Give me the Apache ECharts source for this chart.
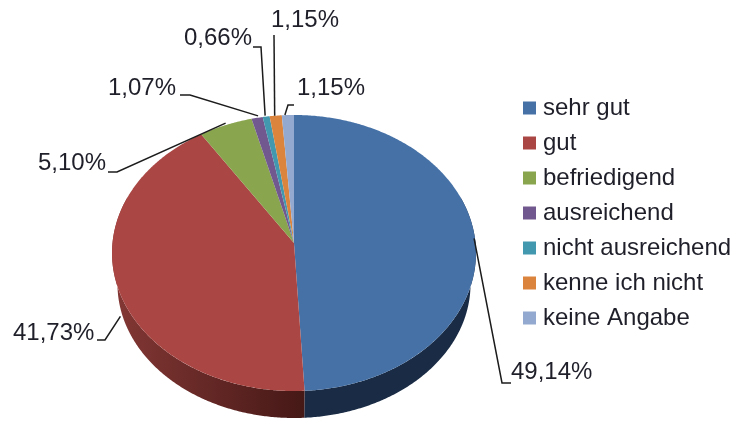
<!DOCTYPE html>
<html>
<head>
<meta charset="utf-8">
<style>
  html, body { margin: 0; padding: 0; background: #fff; }
  #chart { width: 733px; height: 421px; }
</style>
<script src="https://cdn.jsdelivr.net/npm/echarts@6/dist/echarts.min.js"></script>
</head>
<body>
<div id="chart"></div>
<script>
const categories = ["sehr gut", "gut", "befriedigend", "ausreichend", "nicht ausreichend", "kenne ich nicht", "keine Angabe"];
const shares = [49.14, 41.73, 5.10, 1.07, 0.66, 1.15, 1.15];
const shareLabels = ["49,14%", "41,73%", "5,10%", "1,07%", "0,66%", "1,15%", "1,15%"];

const sliceColors = ["#4571a7", "#aa4744", "#89a54e", "#71588f", "#4298af", "#db843d", "#93a9cf"];

// geometry of the tilted pie, tilt is a small perspective so the hub sits above the middle
const cx = 294, cy = 243, rx = 181.5, ry = 137.3, tilt = 0.0725;
const wallY = 274.4, wallScale = 0.97;
const total = shares.reduce((a, b) => a + b, 0);

// text position, elbow of the leader and nudge of its end on the rim, per slice
const leaders = [
  { text: [511, 372], knee: [[511, 383], [502, 383]], nudge: [-1, -1] },
  { text: [13, 333], knee: [[97, 340], [105, 340]], nudge: [3, 30] },
  { text: [38, 163], knee: [[108, 172], [117, 172]], nudge: [0, -2] },
  { text: [108, 88], knee: [[180, 95], [190, 95]], nudge: [1, -2] },
  { text: [184, 38], knee: [[253, 47], [261, 47]], nudge: [-1, -1] },
  { text: [271, 20], knee: [[274, 35]], nudge: [-1, 0] },
  { text: [297, 88], knee: [[294, 105], [288, 105]], nudge: [-3, 0] },
];

// point of the top rim for an angle clockwise from 12 o'clock
function rim(deg) {
  const r = (deg * Math.PI) / 180;
  const w = 1 + tilt * Math.cos(r);
  return [cx + (rx * Math.sin(r)) / w, cy - (ry * Math.cos(r)) / w];
}

// same point on the lower edge of the side wall
function lowerRim(deg) {
  const p = rim(deg);
  return [cx + (p[0] - cx) * wallScale, wallY + (p[1] - cy) * wallScale];
}

function arc(fn, from, to) {
  const pts = [];
  const n = Math.max(2, Math.ceil(Math.abs(to - from) * 2));
  for (let i = 0; i <= n; i++) pts.push(fn(from + ((to - from) * i) / n));
  return pts;
}

function sideFill(idx) {
  if (idx === 1) {
    return new echarts.graphic.LinearGradient(0, 0, 1, 0, [
      { offset: 0, color: "#843835" },
      { offset: 1, color: "#451816" },
    ]);
  }
  return "#1a2c45";
}

function makeRender(idx) {
  const before = shares.slice(0, idx).reduce((a, b) => a + b, 0);
  const start = (before / total) * 360;
  const end = ((before + shares[idx]) / total) * 360;
  return function () {
    const children = [];
    // wall reaches a bit past the sides, the top face covers the extra part
    const s0 = Math.max(start, 70), s1 = Math.min(end, 290);
    if (s1 > s0) {
      children.push({
        type: "polygon",
        shape: { points: arc(rim, s0, s1).concat(arc(lowerRim, s1, s0)) },
        style: { fill: sideFill(idx) },
      });
    }
    children.push({
      type: "polygon",
      shape: { points: [[cx, cy]].concat(arc(rim, start, end)) },
      style: { fill: sliceColors[idx] },
    });
    const lay = leaders[idx];
    const tip = rim((start + end) / 2);
    children.push({
      type: "polyline",
      shape: { points: lay.knee.concat([[tip[0] + lay.nudge[0], tip[1] + lay.nudge[1]]]) },
      style: { stroke: "#1c1c1c", lineWidth: 1.5, fill: null },
    });
    children.push({
      type: "text",
      style: {
        text: shareLabels[idx],
        x: lay.text[0],
        y: lay.text[1],
        fill: "#1f1f2a",
        font: "24px 'Liberation Sans', Arial, sans-serif",
        verticalAlign: "middle",
      },
    });
    return { type: "group", children: children };
  };
}

const chart = echarts.init(document.getElementById("chart"));
chart.setOption({
  animation: false,
  backgroundColor: "#fff",
  legend: {
    orient: "vertical",
    left: 518,
    top: 91,
    padding: 5,
    itemWidth: 13,
    itemHeight: 13,
    itemGap: 11,
    icon: "rect",
    selectedMode: false,
    data: categories,
    textStyle: {
      fontFamily: "'Liberation Sans', Arial, sans-serif",
      fontSize: 24,
      color: "#1f1f2a",
      padding: [0, 0, 0, 2],
    },
  },
  series: categories.map((name, i) => ({
    type: "custom",
    name: name,
    coordinateSystem: "none",
    silent: true,
    itemStyle: { color: sliceColors[i] },
    data: [[shares[i]]],
    renderItem: makeRender(i),
  })),
});

window.addEventListener("resize", () => {
  chart.resize();
});
</script>
</body>
</html>
